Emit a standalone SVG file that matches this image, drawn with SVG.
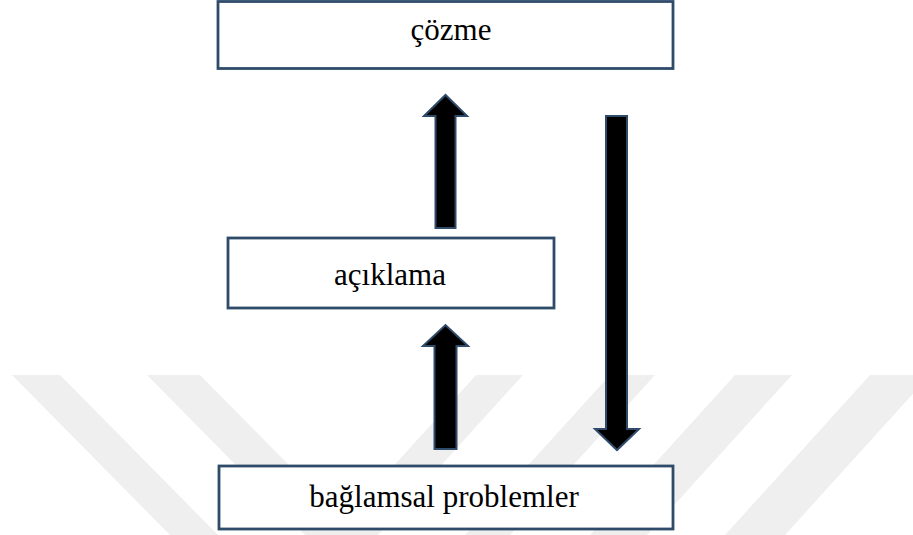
<svg xmlns="http://www.w3.org/2000/svg" width="913" height="535" viewBox="0 0 913 535">
  <style>
    .box { fill: #ffffff; stroke: #2F4B6A; stroke-width: 2.8; }
    .lbl { font-family: "Liberation Serif", "Times New Roman", serif; font-size: 31px; fill: #000000; text-anchor: middle; }
    .arrow { fill: #000000; stroke: #2F4B6A; stroke-width: 2; stroke-linejoin: miter; }
    .wm { fill: #EFEFEF; }
  </style>
  <rect x="0" y="0" width="913" height="535" fill="#ffffff"/>
  <g id="watermark">
    <polygon class="wm" points="12,375 60,375 218,535 170,535"/>
    <polygon class="wm" points="147,375 200,375 358,535 305,535"/>
    <polygon class="wm" points="476,375 523,375 378,535 331,535"/>
    <polygon class="wm" points="610,375 655,375 510,535 465,535"/>
    <polygon class="wm" points="735,375 792,375 647,535 590,535"/>
    <polygon class="wm" points="870,375 930,375 785,535 725,535"/>
  </g>
  <g id="connectors">
    <polygon class="arrow" points="435.5,228 435.5,116 424,116 445.5,95 467,116 455.5,116 455.5,228"/>
    <polygon class="arrow" points="434.5,449 434.5,346 423,346 445.5,325 468,346 456.5,346 456.5,449"/>
    <polygon class="arrow" points="606,116 627,116 627,429 639,429 617,450 595,429 606,429"/>
  </g>
  <g id="cozme">
    <rect class="box" x="218" y="1.5" width="455" height="67"/>
    <text class="lbl" x="451" y="40">çözme</text>
  </g>
  <g id="aciklama">
    <rect class="box" x="228" y="238" width="326" height="70"/>
    <text class="lbl" x="390" y="285">açıklama</text>
  </g>
  <g id="baglamsal">
    <rect class="box" x="219" y="466" width="454" height="63"/>
    <text class="lbl" x="444" y="507">bağlamsal problemler</text>
  </g>
</svg>
